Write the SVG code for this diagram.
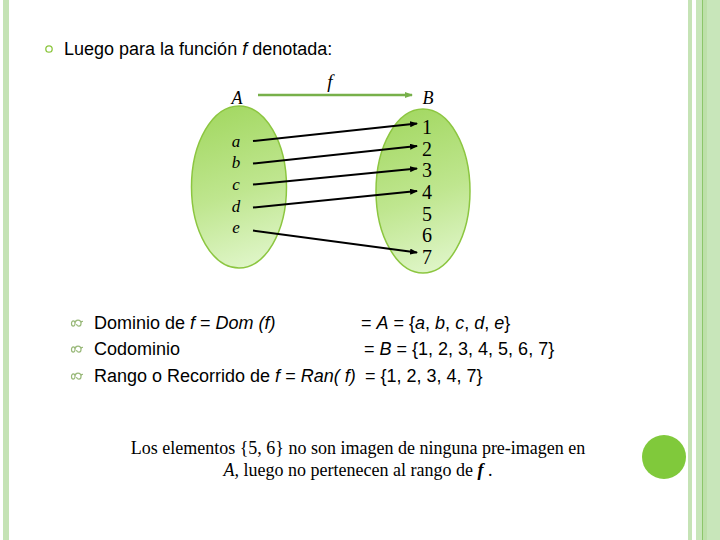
<svg xmlns="http://www.w3.org/2000/svg" width="720" height="540" viewBox="0 0 720 540">
<defs>
<linearGradient id="gfill" x1="0.3" y1="0" x2="0.5" y2="1">
<stop offset="0" stop-color="#a3d862"/>
<stop offset="0.55" stop-color="#bfe68f"/>
<stop offset="1" stop-color="#def5c6"/>
</linearGradient>
<marker id="ah" markerWidth="8" markerHeight="6" refX="7" refY="3" orient="auto" markerUnits="userSpaceOnUse">
<path d="M0,0 L8,3 L0,6 Z" fill="#000"/>
</marker>
<marker id="gh" markerWidth="8" markerHeight="6" refX="7" refY="3" orient="auto" markerUnits="userSpaceOnUse">
<path d="M0,0 L8,3 L0,6 Z" fill="#77b04a"/>
</marker>
<path id="bul" d="M0.5,4.5 c0,-3.5 3.5,-3.5 3.5,0 c0,3.5 -3.5,3.5 -3.5,0 M4,4.5 c0,-4.5 6,-4.5 6,0 c0,3.5 -4,3.5 -4.5,0.5 M10,4.5 c0,-2 1.5,-3 1.5,-1.5" fill="none" stroke="#98b878" stroke-width="1.2"/>
</defs>
<style>
.sans{font-family:"Liberation Sans",Arial,sans-serif;font-size:18px;fill:#000}
.ser{font-family:"Liberation Serif","Times New Roman",serif;fill:#000}
.it{font-style:italic}
.set{fill:url(#gfill);stroke:#8cc640;stroke-width:1.5}
.map{stroke:#000;stroke-width:2;fill:none;marker-end:url(#ah)}
</style>
<rect width="720" height="540" fill="#fff"/>
<g id="frame">
<rect x="3" y="0" width="6" height="540" fill="#c5e3b5"/>
<rect x="688" y="0" width="4" height="540" fill="#c5e3b5"/>
<rect x="696" y="0" width="24" height="540" fill="#c8e6ba"/>
<rect x="703" y="0" width="4" height="540" fill="#bde0a9"/>
<line x1="702.5" y1="0" x2="702.5" y2="540" stroke="#8cc66a" stroke-width="1"/>
<circle cx="664" cy="457" r="22" fill="#80c93b"/>
</g>
<g id="header">
<circle cx="49" cy="49" r="3.2" fill="none" stroke="#8cc63f" stroke-width="1.3"/>
<text class="sans" x="64" y="55">Luego para la función <tspan class="it">f</tspan> denotada:</text>
</g>
<g id="setA">
<ellipse class="set" cx="239" cy="187" rx="47.5" ry="81"/>
<text class="ser it" x="237" y="104" font-size="18" text-anchor="middle">A</text>
<g class="ser it" font-size="17" text-anchor="middle">
<text x="236" y="147">a</text>
<text x="236" y="168">b</text>
<text x="236" y="190">c</text>
<text x="236" y="212">d</text>
<text x="236" y="233">e</text>
</g>
</g>
<g id="setB">
<ellipse class="set" cx="423" cy="191" rx="47" ry="82"/>
<text class="ser it" x="428" y="104" font-size="18" text-anchor="middle">B</text>
<g class="ser" font-size="20" text-anchor="middle">
<text x="427" y="134">1</text>
<text x="427" y="156">2</text>
<text x="427" y="177">3</text>
<text x="427" y="199">4</text>
<text x="427" y="221">5</text>
<text x="427" y="242">6</text>
<text x="427" y="264">7</text>
</g>
</g>
<g id="connectors">
<line x1="258" y1="95" x2="412" y2="95" stroke="#77b04a" stroke-width="2.5" marker-end="url(#gh)"/>
<text class="ser it" x="330" y="88" font-size="19" text-anchor="middle">f</text>
<line class="map" x1="253" y1="141" x2="417" y2="123.5"/>
<line class="map" x1="253" y1="163.5" x2="417" y2="146"/>
<line class="map" x1="253" y1="184.5" x2="417" y2="168.5"/>
<line class="map" x1="253" y1="207.5" x2="417" y2="191"/>
<line class="map" x1="253" y1="230.5" x2="417" y2="252.5"/>
</g>
<g id="definitions">
<use href="#bul" x="71" y="319"/>
<use href="#bul" x="71" y="345"/>
<use href="#bul" x="71" y="372"/>
<text class="sans" x="94" y="329">Dominio de <tspan class="it">f</tspan> = <tspan class="it">Dom (f)</tspan></text>
<text class="sans" x="361" y="329">= <tspan class="it">A</tspan> = {<tspan class="it">a</tspan>, <tspan class="it">b</tspan>, <tspan class="it">c</tspan>, <tspan class="it">d</tspan>, <tspan class="it">e</tspan>}</text>
<text class="sans" x="94" y="355">Codominio</text>
<text class="sans" x="364" y="355">= <tspan class="it">B</tspan> = {1, 2, 3, 4, 5, 6, 7}</text>
<text class="sans" x="94" y="382">Rango o Recorrido de <tspan class="it">f</tspan> = <tspan class="it">Ran( f)</tspan></text>
<text class="sans" x="365" y="382">= {1, 2, 3, 4, 7}</text>
</g>
<g id="note" class="ser" font-size="18" text-anchor="middle">
<text x="358" y="454">Los elementos {5, 6} no son imagen de ninguna pre-imagen en</text>
<text x="358" y="476"><tspan class="it">A,</tspan> luego no pertenecen al rango de <tspan class="it" font-weight="bold">f</tspan> .</text>
</g>
</svg>
